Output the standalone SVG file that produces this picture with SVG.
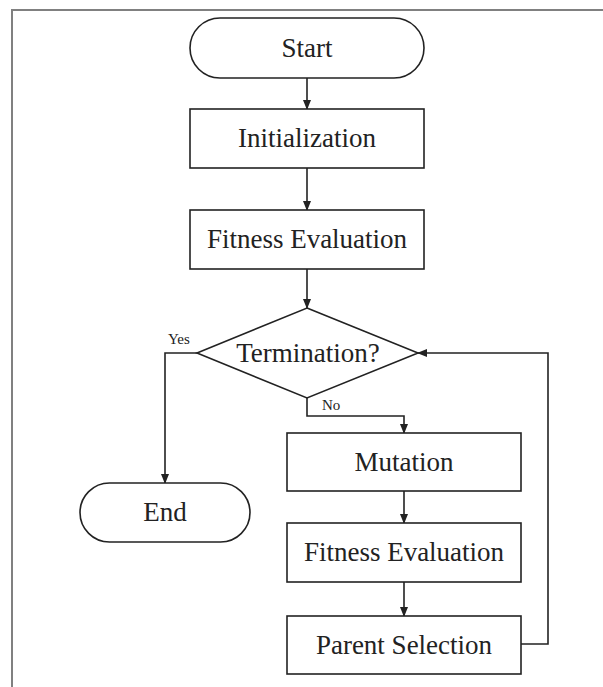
<svg xmlns="http://www.w3.org/2000/svg" width="603" height="687" viewBox="0 0 603 687">
  <defs>
    <marker id="arrow" markerWidth="10" markerHeight="10" refX="9" refY="5" orient="auto" markerUnits="userSpaceOnUse">
      <path d="M0,1 L10,5 L0,9 Z" fill="#222"/>
    </marker>
    <style>
      .shape { fill: #fff; stroke: #222; stroke-width: 1.6; }
      .edge { fill: none; stroke: #222; stroke-width: 1.6; marker-end: url(#arrow); }
      .line { fill: none; stroke: #222; stroke-width: 1.6; }
      .label { font-family: "Liberation Serif", "Times New Roman", serif; font-size: 27px; fill: #222; text-anchor: middle; }
      .small { font-family: "Liberation Serif", "Times New Roman", serif; font-size: 15px; fill: #222; }
      .frame { fill: none; stroke: #808080; stroke-width: 2; }
    </style>
  </defs>
  <rect width="603" height="687" fill="#fff"/>
  <!-- page frame -->
  <path class="frame" d="M12,687 L12,10 L603,10"/>

  <g id="connectors">
    <line class="edge" x1="307" y1="78" x2="307" y2="109"/>
    <line class="edge" x1="307" y1="168" x2="307" y2="210"/>
    <line class="edge" x1="307" y1="269" x2="307" y2="308"/>
    <polyline class="edge" points="197,353 165,353 165,483"/>
    <polyline class="edge" points="307,398 307,416 404,416 404,433"/>
    <line class="edge" x1="404" y1="491" x2="404" y2="523"/>
    <line class="edge" x1="404" y1="582" x2="404" y2="616"/>
    <polyline class="edge" points="521,644 548,644 548,353 418,353"/>
    <text class="small" x="168" y="344">Yes</text>
    <text class="small" x="322" y="410">No</text>
  </g>

  <g id="start">
    <rect class="shape" x="190" y="18" width="234" height="60" rx="30" ry="30"/>
    <text class="label" x="307" y="57">Start</text>
  </g>
  <g id="initialization">
    <rect class="shape" x="190" y="109" width="234" height="59"/>
    <text class="label" x="307" y="147">Initialization</text>
  </g>
  <g id="fitness1">
    <rect class="shape" x="190" y="210" width="234" height="59"/>
    <text class="label" x="307" y="248">Fitness Evaluation</text>
  </g>
  <g id="termination">
    <polygon class="shape" points="307,308 418,353 307,398 197,353"/>
    <text class="label" x="308" y="362">Termination?</text>
  </g>
  <g id="end">
    <rect class="shape" x="80" y="483" width="170" height="59" rx="29.5" ry="29.5"/>
    <text class="label" x="165" y="521">End</text>
  </g>
  <g id="mutation">
    <rect class="shape" x="287" y="433" width="234" height="58"/>
    <text class="label" x="404" y="471">Mutation</text>
  </g>
  <g id="fitness2">
    <rect class="shape" x="287" y="523" width="234" height="59"/>
    <text class="label" x="404" y="561">Fitness Evaluation</text>
  </g>
  <g id="parent-selection">
    <rect class="shape" x="287" y="616" width="234" height="58"/>
    <text class="label" x="404" y="654">Parent Selection</text>
  </g>
</svg>
